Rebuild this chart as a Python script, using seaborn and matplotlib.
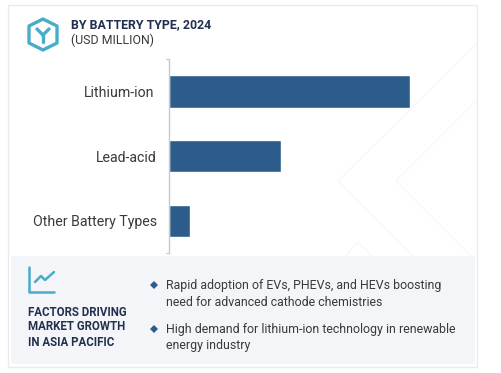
#!/usr/bin/env python3
"""Battery type bar chart with factors panel, saved to out.png."""

import matplotlib
matplotlib.use("Agg")
import matplotlib.pyplot as plt
import pandas as pd
import seaborn as sns
from matplotlib.patches import Polygon, Rectangle
from matplotlib.transforms import ScaledTranslation

# Data
BATTERY_TYPES = ["Lithium-ion", "Lead-acid", "Other Battery Types"]
MARKET_SIZE = [2400, 1110, 200]
TITLE = "BY BATTERY TYPE, 2024"
SUBTITLE = "(USD MILLION)"
PANEL_TITLE = ["FACTORS DRIVING", "MARKET GROWTH", "IN ASIA PACIFIC"]
BULLETS = [
    ["Rapid adoption of EVs, PHEVs, and HEVs boosting", "need for advanced cathode chemistries"],
    ["High demand for lithium-ion technology in renewable", "energy industry"],
]

# Colours
BAR = "#2b5c8a"
NAVY = "#22304f"
TEAL = "#47adc8"
PANEL = "#f3f5f9"
BORDER = "#e9ebee"
TEXT = "#3a3a3a"
WM = "#f7f7f7"

W, H = 502, 373

sns.set_theme(style="white")
plt.rcParams["font.family"] = ["Roboto", "DejaVu Sans"]

fig = plt.figure(figsize=(W / 100, H / 100), dpi=100, facecolor="white")

# Background layer in pixel coordinates
bg = fig.add_axes([0, 0, 1, 1], zorder=0)
bg.set_xlim(0, W)
bg.set_ylim(H, 0)
bg.axis("off")

bg.add_patch(Rectangle((8, 5), 469, 362, fc="white", ec=BORDER, lw=1))

# faint watermark chevrons
for pts in (
    [(477, 43), (338, 181), (477, 320)],
    [(477, 100), (396, 181), (477, 262)],
    [(340, 262), (358, 242), (378, 262)],
):
    bg.plot(*zip(*pts), color=WM, lw=1, zorder=1)

bg.add_patch(Rectangle((11, 256), 464, 108, fc=PANEL, ec="none", zorder=2))

# hexagon icon
hexagon = [(43, 19), (57, 26), (57, 43), (43, 50), (29, 43), (29, 26)]
bg.add_patch(Polygon(hexagon, closed=True, fc="none", ec=TEAL, lw=2.4, joinstyle="round", zorder=3))
bg.plot([37, 43, 49], [29, 35, 29], color=TEAL, lw=2.4, zorder=3)
bg.plot([43, 43], [35, 42], color=TEAL, lw=2.4, zorder=3)

# line chart icon
bg.plot([29, 29, 54], [267, 292, 292], color=TEAL, lw=1.8, zorder=3)
bg.plot([35, 41, 45, 54], [282, 276, 280, 272], color=TEAL, lw=1.8, zorder=3)

# small caps on the axis line
bg.plot([166, 169.5], [59, 59], color="#c8c8c8", lw=0.8, zorder=3)
bg.plot([166, 169.5], [252.5, 252.5], color="#c8c8c8", lw=0.8, zorder=3)

# Titles
bg.text(71, 25, TITLE, fontsize=8.9, fontweight="bold", color=NAVY, va="center", zorder=4)
bg.text(71, 40, SUBTITLE, fontsize=8.9, color=TEXT, va="center", zorder=4)

for y, line in zip((312, 327, 343), PANEL_TITLE):
    bg.text(28, y, line, fontsize=8.3, fontweight="bold", color=NAVY, va="center", zorder=4)

for y0, lines in zip((285, 329), BULLETS):
    bg.plot([154], [y0 - 0.5], marker="D", ms=3.6, color=BAR, mew=0, zorder=4)
    for i, line in enumerate(lines):
        bg.text(166, y0 + i * 17, line, fontsize=8.9, color=TEXT, va="center", zorder=4)

# Bar chart
df = pd.DataFrame({"battery": BATTERY_TYPES, "value": MARKET_SIZE})
ax = fig.add_axes([169.5 / W, 1 - 253 / H, 240.5 / W, 194 / H], zorder=2)
ax.patch.set_alpha(0)
sns.barplot(data=df, x="value", y="battery", color=BAR, saturation=1, width=0.5, ax=ax)
ax.set_xlim(0, max(MARKET_SIZE))
ax.set_xlabel("")
ax.set_ylabel("")
ax.set_xticks([])
ax.tick_params(axis="y", length=0, pad=9, labelsize=10.2, labelcolor=TEXT)
sns.despine(ax=ax, left=False, bottom=True, top=True, right=True)
ax.spines["left"].set_color("#c8c8c8")
ax.spines["left"].set_linewidth(1)
ax.spines["left"].set_zorder(5)

# the top label sits a little further from the axis in the original
top_label = ax.get_yticklabels()[0]
top_label.set_transform(top_label.get_transform() + ScaledTranslation(-3 / 100, 0, fig.dpi_scale_trans))

fig.savefig("out.png", dpi=100, facecolor="white")
